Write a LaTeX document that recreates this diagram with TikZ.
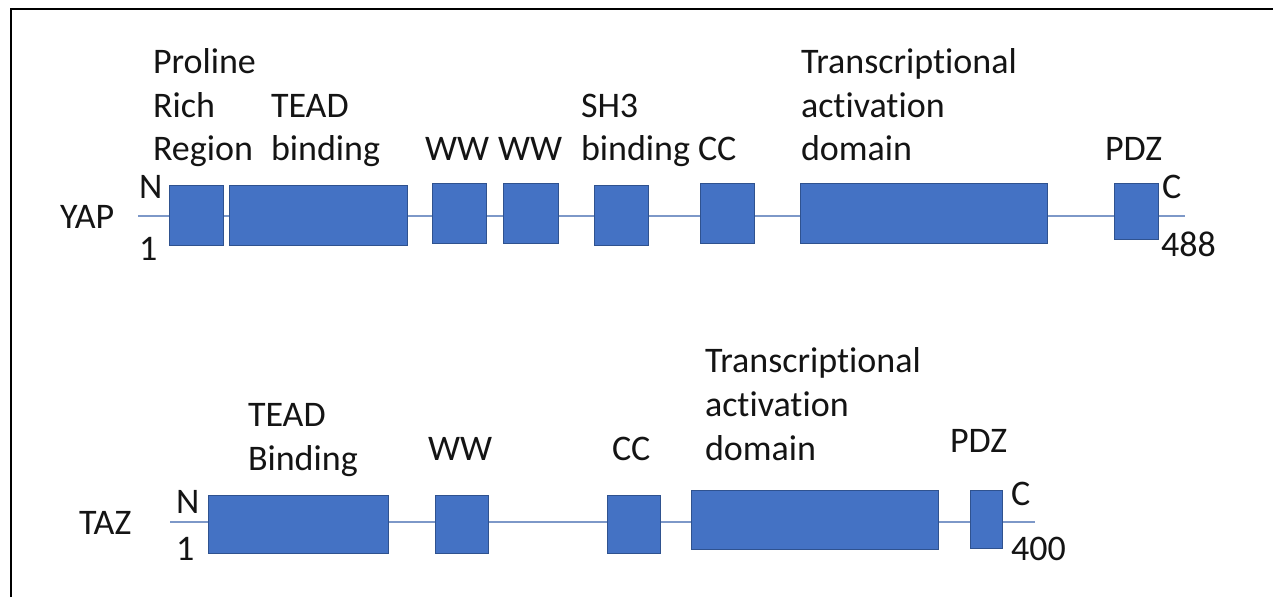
\documentclass[tikz,border=0pt]{standalone}
\usepackage{fontspec}
\setmainfont{Carlito}[RawFeature={-liga;-clig;-calt;-dlig}]
\definecolor{dombl}{HTML}{4472C4}
\definecolor{domedge}{HTML}{2F528F}
\definecolor{chain}{RGB}{125,152,200}
\definecolor{ink}{RGB}{20,20,20}
\newcommand{\septi}{t\kern0pt i}
\begin{document}
\begin{tikzpicture}[x=1pt,y=-1pt,
  dom/.style={draw=domedge, line width=0.8pt, fill=dombl, anchor=north west,
              inner sep=0pt, outer sep=0pt},
  chainline/.style={draw=chain, line width=1.6pt},
  lbl/.style={anchor=base west, inner sep=0pt, outer sep=0pt,
              font=\fontsize{36}{44}\selectfont, text=ink},
]
\useasboundingbox (0,0) rectangle (1273,597);
\fill[white] (0,0) rectangle (1273,597);

% frame
\draw[line width=2pt, black] (11,597) -- (11,9) -- (1273,9);

% ---------- YAP ----------
\coordinate (ystart) at (138,216);
\coordinate (yend)   at (1185,216);
\draw[chainline] (ystart) -- (yend);

\node[dom, minimum width=54,  minimum height=60] (ypro)  at (169,185) {};
\node[dom, minimum width=178, minimum height=60] (ytead) at (229,185) {};
\node[dom, minimum width=54,  minimum height=60] (yww1)  at (432,183) {};
\node[dom, minimum width=55,  minimum height=60] (yww2)  at (503,183) {};
\node[dom, minimum width=54,  minimum height=60] (ysh3)  at (594,185) {};
\node[dom, minimum width=54,  minimum height=60] (ycc)   at (700,183) {};
\node[dom, minimum width=247, minimum height=60] (ytad)  at (800,183) {};
\node[dom, minimum width=44,  minimum height=56] (ypdz)  at (1114,183) {};

\node[lbl] (yname) at (60,228) {YAP};
\node[lbl] (yn)    at (139,198) {N};
\node[lbl] (y1)    at (139,260) {1};
\node[lbl] (yc)    at (1162,198) {C};
\node[lbl] (ylen)  at (1161,256) {488};

\node[lbl] (yl1a) at (153,73)  {Proline};
\node[lbl] (yl1b) at (153,117) {Rich};
\node[lbl] (yl1c) at (153,160) {Region};
\node[lbl] (yl2a) at (271,117) {TEAD};
\node[lbl] (yl2b) at (271,160) {binding};
\node[lbl] (yl3)  at (425,160) {WW};
\node[lbl] (yl4)  at (498,160) {WW};
\node[lbl] (yl5a) at (581,117) {SH3};
\node[lbl] (yl5b) at (581,160) {binding};
\node[lbl] (yl6)  at (698,160) {CC};
\node[lbl] (yl7a) at (801,73)  {Transcrip\septi onal};
\node[lbl] (yl7b) at (801,117) {activation};
\node[lbl] (yl7c) at (801,160) {domain};
\node[lbl] (yl8)  at (1105,160) {PDZ};

% ---------- TAZ ----------
\coordinate (tstart) at (170,522);
\coordinate (tend)   at (1035,522);
\draw[chainline] (tstart) -- (tend);

\node[dom, minimum width=180, minimum height=58] (ttead) at (208,495) {};
\node[dom, minimum width=53,  minimum height=58] (tww)   at (435,495) {};
\node[dom, minimum width=53,  minimum height=58] (tcc)   at (607,495) {};
\node[dom, minimum width=247, minimum height=59] (ttad)  at (691,490) {};
\node[dom, minimum width=32,  minimum height=58] (tpdz)  at (970,490) {};

\node[lbl] (tname) at (79,534)  {TAZ};
\node[lbl] (tn)    at (176,513) {N};
\node[lbl] (t1)    at (176,560) {1};
\node[lbl] (tc)    at (1011,505) {C};
\node[lbl] (tlen)  at (1011,560) {400};

\node[lbl] (tl1a) at (248,426) {TEAD};
\node[lbl] (tl1b) at (248,470) {Binding};
\node[lbl] (tl2)  at (428,460) {WW};
\node[lbl] (tl3)  at (612,460) {CC};
\node[lbl] (tl4a) at (705,372) {Transcrip\septi onal};
\node[lbl] (tl4b) at (705,416) {activation};
\node[lbl] (tl4c) at (705,460) {domain};
\node[lbl] (tl5)  at (950,452) {PDZ};
\end{tikzpicture}
\end{document}
